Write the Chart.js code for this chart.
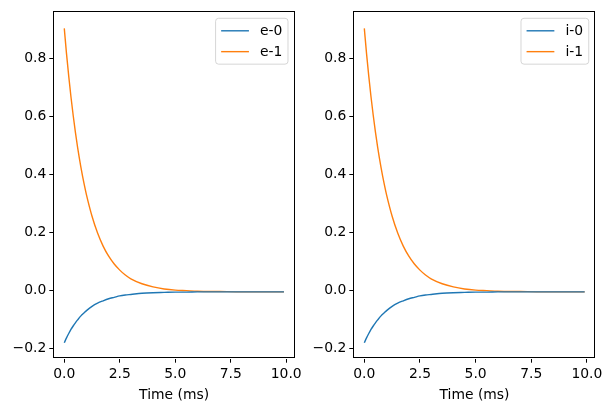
<!DOCTYPE html>
<html>
<head>
<meta charset="utf-8">
<script src="https://cdn.jsdelivr.net/npm/chart.js@4.4.0/dist/chart.umd.min.js"></script>
<style>
  html, body { margin: 0; padding: 0; background: #fff; }
  #wrap { position: relative; width: 611px; height: 411px; overflow: hidden; }
  canvas { position: absolute; top: 0; }
</style>
</head>
<body>
<div id="wrap">
  <canvas id="chartE" width="305" height="411" style="left:0px"></canvas>
  <canvas id="chartI" width="311" height="411" style="left:300px"></canvas>
</div>
<script>
// time points (ms)
const time = [0, 0.1, 0.2, 0.3, 0.4, 0.5, 0.6, 0.75, 0.9, 1, 1.25, 1.5, 1.75, 2, 2.25, 2.5, 2.75, 3, 3.5, 4, 4.5, 5, 5.5, 6, 7, 8, 9, 9.9];

// left panel
const e0 = [-0.181, -0.164, -0.149, -0.135, -0.123, -0.112, -0.102, -0.088, -0.077, -0.070, -0.055, -0.044, -0.036, -0.029, -0.024, -0.019, -0.016, -0.014, -0.010, -0.008, -0.007, -0.006, -0.006, -0.005, -0.005, -0.005, -0.005, -0.005];
const e1 = [0.905, 0.818, 0.740, 0.669, 0.605, 0.547, 0.494, 0.425, 0.365, 0.330, 0.256, 0.198, 0.153, 0.118, 0.091, 0.070, 0.053, 0.040, 0.023, 0.012, 0.005, 0.001, -0.001, -0.003, -0.004, -0.005, -0.005, -0.005];

// right panel
const i0 = [-0.181, -0.164, -0.149, -0.135, -0.123, -0.112, -0.102, -0.088, -0.077, -0.070, -0.055, -0.044, -0.036, -0.029, -0.024, -0.019, -0.016, -0.014, -0.010, -0.008, -0.007, -0.006, -0.006, -0.005, -0.005, -0.005, -0.005, -0.005];
const i1 = [0.905, 0.818, 0.740, 0.669, 0.605, 0.547, 0.494, 0.425, 0.365, 0.330, 0.256, 0.198, 0.153, 0.118, 0.091, 0.070, 0.053, 0.040, 0.023, 0.012, 0.005, 0.001, -0.001, -0.003, -0.004, -0.005, -0.005, -0.005];

const xTicks = [0, 2.5, 5, 7.5, 10];
const yTicks = [-0.2, 0, 0.2, 0.4, 0.6, 0.8];

const FONT = 'DejaVu Sans';
const FS = 13.9;
const BLUE = '#1f77b4';
const ORANGE = '#ff7f0e';

const fmt = (v) => v.toFixed(1).replace('-', '\u2212');

// black frame round the plot area
const framePlugin = {
    id: 'frame',
    afterDraw(chart) {
        const a = chart.chartArea;
        const ctx = chart.ctx;
        ctx.save();
        ctx.strokeStyle = '#000';
        ctx.lineWidth = 1;
        ctx.strokeRect(Math.round(a.left) + 0.5, Math.round(a.top) + 0.5,
            Math.round(a.right - a.left) - 1, Math.round(a.bottom - a.top) - 1);
        ctx.restore();
    }
};

// matplotlib-like legend in the upper right corner
const boxLegend = {
    id: 'boxLegend',
    afterDraw(chart) {
        const a = chart.chartArea;
        const ctx = chart.ctx;
        const sets = chart.data.datasets;
        ctx.save();
        ctx.font = FS + 'px "' + FONT + '"';
        const pad = 0.4 * FS, handle = 2 * FS, gap = 0.8 * FS, spacing = 0.5 * FS;
        let tw = 0;
        sets.forEach(d => { tw = Math.max(tw, ctx.measureText(d.label).width); });
        const w = pad + handle + gap + tw + pad;
        const h = 2 * pad + sets.length * FS + (sets.length - 1) * spacing;
        const right = a.right - 0.5 * FS;
        const top = a.top + 0.5 * FS;
        const left = right - w;
        ctx.beginPath();
        ctx.roundRect(left, top, w, h, 3);
        ctx.fillStyle = 'rgba(255,255,255,0.8)';
        ctx.fill();
        ctx.strokeStyle = 'rgba(204,204,204,0.8)';
        ctx.lineWidth = 1;
        ctx.stroke();
        sets.forEach((d, i) => {
            const y = top + pad + FS / 2 + i * (FS + spacing);
            ctx.beginPath();
            ctx.strokeStyle = d.borderColor;
            ctx.lineWidth = 1.4;
            ctx.moveTo(left + pad, y);
            ctx.lineTo(left + pad + handle, y);
            ctx.stroke();
            ctx.fillStyle = '#000';
            ctx.textBaseline = 'middle';
            ctx.textAlign = 'left';
            ctx.fillText(d.label, left + pad + handle + gap, y + 1);
        });
        ctx.restore();
    }
};

function makeChart(id, labels, series, padRight) {
    const ctx = document.getElementById(id).getContext('2d');
    return new Chart(ctx, {
        type: 'line',
        data: {
            datasets: series.map((s, k) => ({
                label: labels[k],
                data: time.map((t, j) => ({ x: t, y: s[j] })),
                borderColor: k === 0 ? BLUE : ORANGE,
                borderWidth: 1.4,
                pointRadius: 0,
                fill: false,
                cubicInterpolationMode: 'monotone'
            }))
        },
        options: {
            responsive: false,
            animation: false,
            devicePixelRatio: 1,
            layout: {
                padding: { left: 0, top: 9, right: padRight, bottom: 0 }
            },
            plugins: {
                legend: { display: false },
                tooltip: { enabled: false }
            },
            scales: {
                x: {
                    type: 'linear',
                    min: -0.495,
                    max: 10.395,
                    afterFit: (scale) => { scale.height = 52.3; },
                    afterBuildTicks: (scale) => { scale.ticks = xTicks.map(v => ({ value: v })); },
                    border: { display: false },
                    grid: {
                        drawOnChartArea: false,
                        drawTicks: true,
                        tickLength: 4,
                        color: '#000'
                    },
                    ticks: {
                        color: '#000',
                        padding: 3,
                        maxRotation: 0,
                        autoSkip: false,
                        font: { family: FONT, size: FS },
                        callback: (value) => fmt(value)
                    },
                    title: {
                        display: true,
                        text: 'Time (ms)',
                        color: '#000',
                        font: { family: FONT, size: FS },
                        padding: { top: 2, bottom: 7 }
                    }
                },
                y: {
                    min: -0.236,
                    max: 0.964,
                    afterFit: (scale) => { scale.width = 53.3; },
                    afterBuildTicks: (scale) => { scale.ticks = yTicks.map(v => ({ value: v })); },
                    border: { display: false },
                    grid: {
                        drawOnChartArea: false,
                        drawTicks: true,
                        tickLength: 4,
                        color: '#000'
                    },
                    ticks: {
                        color: '#000',
                        padding: 3,
                        autoSkip: false,
                        font: { family: FONT, size: FS },
                        callback: (value) => fmt(value)
                    }
                }
            }
        },
        plugins: [framePlugin, boxLegend]
    });
}

makeChart('chartE', ['e-0', 'e-1'], [e0, e1], 305 - 295.7);
makeChart('chartI', ['i-0', 'i-1'], [i0, i1], 311 - 295.7);
</script>
</body>
</html>
